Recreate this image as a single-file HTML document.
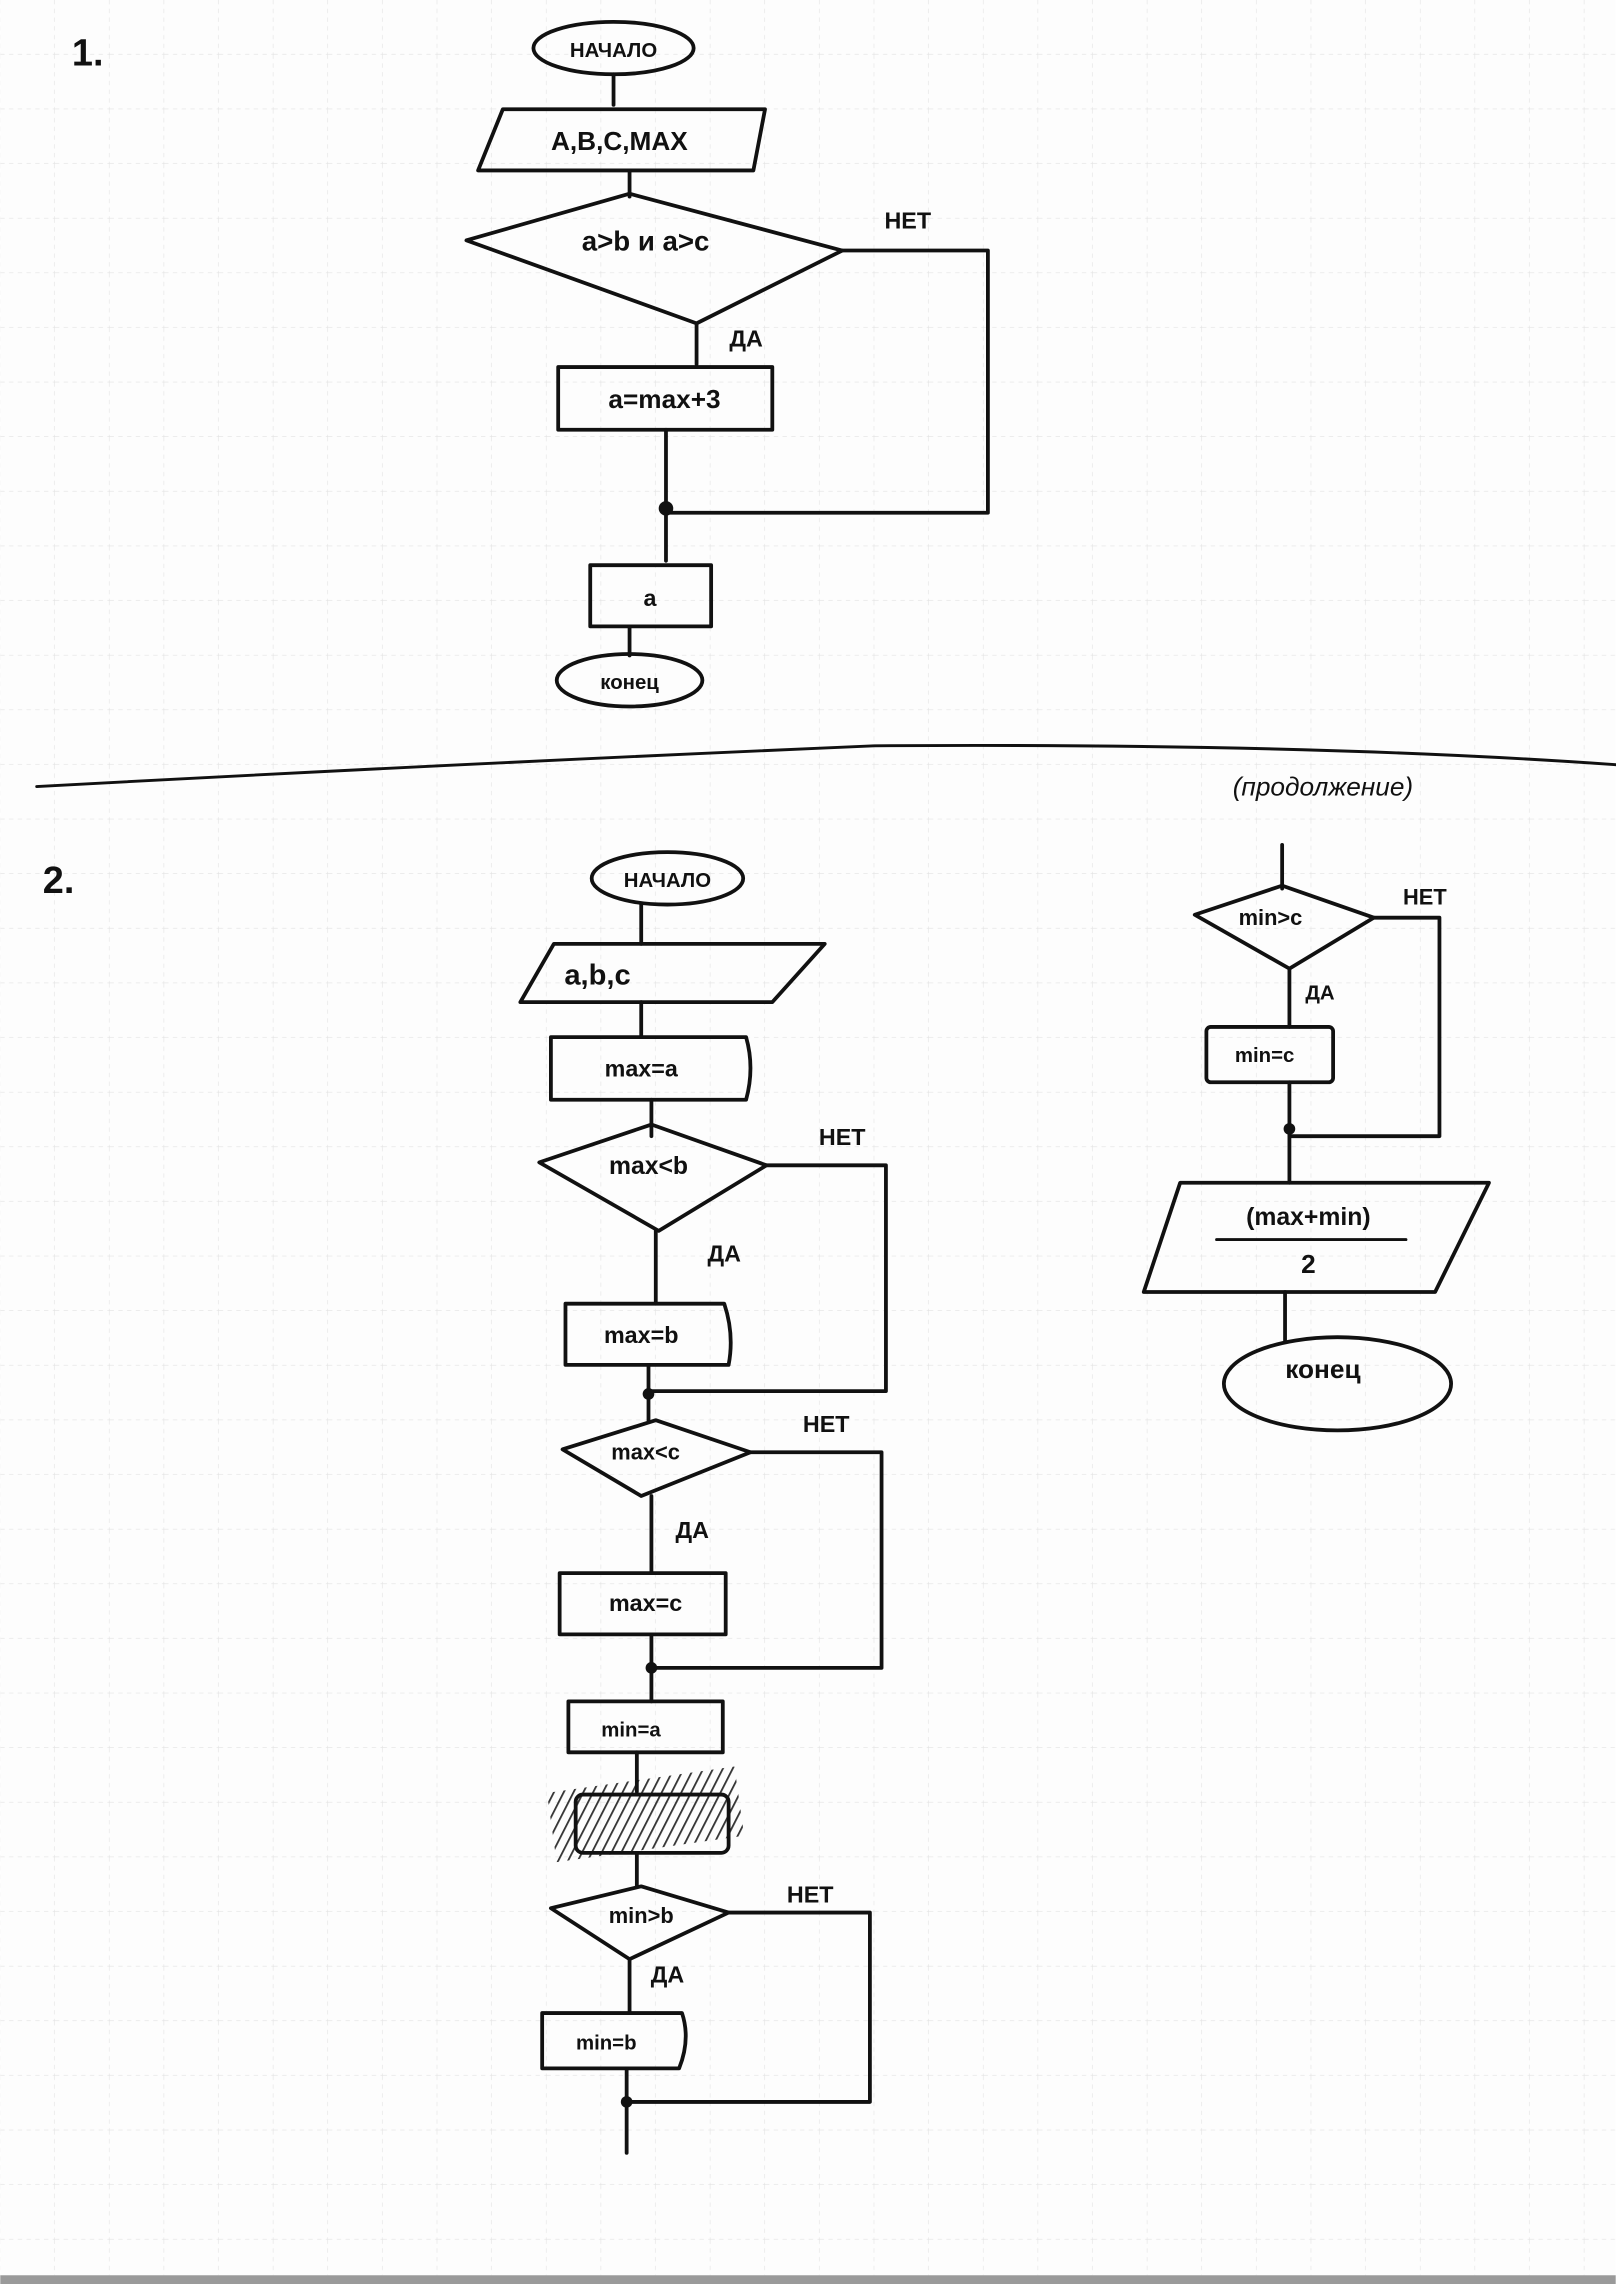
<!DOCTYPE html>
<html><head><meta charset="utf-8">
<style>
html,body{margin:0;padding:0;background:#fff;}
svg{display:block;}
text{font-family:"Liberation Sans","Noto Sans CJK SC",sans-serif;fill:#111;}
</style></head>
<body>
<svg width="1616" height="2284" viewBox="0 0 1109 1568" xmlns="http://www.w3.org/2000/svg">
<defs>
<pattern id="g" width="37.5" height="37.5" patternUnits="userSpaceOnUse">
<path d="M37.5 0V37.5M0 37.5H37.5" stroke="#e2e2e2" stroke-width="0.8" stroke-dasharray="3 3" fill="none"/>
</pattern>
<pattern id="h" width="6" height="6" patternUnits="userSpaceOnUse" patternTransform="rotate(35)">
<path d="M0 0V6" stroke="#111" stroke-width="2.5"/>
</pattern>
</defs>
<rect width="1109" height="1568" fill="#fdfdfd"/>
<rect width="1109" height="1562" fill="url(#g)"/>
<rect y="1562" width="1109" height="6" fill="#9a9a9a"/>
<g fill="none" stroke="#111" stroke-width="2.6" stroke-linejoin="round" stroke-linecap="round">
<!-- Part 1 -->
<ellipse cx="421" cy="33" rx="55" ry="18"/>
<path d="M421 51V72"/>
<path d="M345 75H525L517 117H328Z"/>
<path d="M432 117V135"/>
<path d="M320 165L432 133L578 172L478 222Z"/>
<path d="M578 172H678V352H457"/>
<path d="M478 222V250"/>
<rect x="383" y="252" width="147" height="43"/>
<path d="M457 295V385"/>
<rect x="405" y="388" width="83" height="42"/>
<path d="M432 430V450"/>
<ellipse cx="432" cy="467" rx="50" ry="18"/>
<path d="M25 540Q300 525 600 512Q900 510 1109 525" stroke-width="2"/>
<!-- Part 2 -->
<ellipse cx="458" cy="603" rx="52" ry="18"/>
<path d="M440 621V648"/>
<path d="M380 648H566L530 688H357Z"/>
<path d="M440 688V712"/>
<path d="M378 712H512Q518 733 512 755H378Z"/>
<path d="M447 755V780"/>
<path d="M370 798L447 772L526 800L452 845Z"/>
<path d="M526 800H608V955H447"/>
<path d="M450 845V895"/>
<path d="M388 895H497Q504 916 500 937H388Z"/>
<path d="M445 937V975"/>
<path d="M386 995L450 975L515 997L440 1027Z"/>
<path d="M515 997H605V1145H447"/>
<path d="M447 1027V1080"/>
<rect x="384" y="1080" width="114" height="42"/>
<path d="M447 1122V1168"/>
<rect x="390" y="1168" width="106" height="35"/>
<path d="M437 1203V1230"/>
<rect x="395" y="1232" width="105" height="40" rx="5"/>
<path d="M437 1272V1295"/>
<path d="M378 1310L440 1295L500 1313L432 1345Z"/>
<path d="M500 1313H597V1443H430"/>
<path d="M432 1345V1382"/>
<path d="M372 1382H468Q474 1400 466 1420H372Z"/>
<path d="M430 1420V1478"/>
<!-- right column -->
<path d="M880 580V610"/>
<path d="M820 628L880 608L943 630L885 665Z"/>
<path d="M943 630H988V780H885"/>
<path d="M885 665V705"/>
<rect x="828" y="705" width="87" height="38" rx="3"/>
<path d="M885 743V812"/>
<path d="M810 812H1022L985 887H785Z"/>
<path d="M835 851H965" stroke-width="2"/>
<path d="M882 887V920"/>
<ellipse cx="918" cy="950" rx="78" ry="32"/>
</g>
<rect x="378" y="1222" width="130" height="48" fill="url(#h)" opacity="0.85" transform="rotate(-8 440 1246)"/>
<g fill="#111">
<circle cx="457" cy="349" r="5"/>
<circle cx="445" cy="957" r="4"/>
<circle cx="447" cy="1145" r="4"/>
<circle cx="430" cy="1443" r="4"/>
<circle cx="885" cy="775" r="4"/>
</g>
<g font-size="17" font-weight="bold" text-anchor="middle">
<text x="60" y="45" font-size="26">1.</text>
<text x="421" y="39" font-size="14">НАЧАЛО</text>
<text x="425" y="103" font-size="18">A,B,C,MAX</text>
<text x="443" y="172" font-size="19">a&gt;b и a&gt;c</text>
<text x="623" y="157" font-size="16">НЕТ</text>
<text x="512" y="238" font-size="16">ДА</text>
<text x="456" y="280" font-size="18">a=max+3</text>
<text x="446" y="416" font-size="16">a</text>
<text x="432" y="473" font-size="14">конец</text>
<text x="40" y="613" font-size="26">2.</text>
<text x="458" y="609" font-size="14">НАЧАЛО</text>
<text x="410" y="676" font-size="20">a,b,c</text>
<text x="440" y="739" font-size="16">max=a</text>
<text x="445" y="806" font-size="17">max&lt;b</text>
<text x="578" y="786" font-size="16">НЕТ</text>
<text x="497" y="866" font-size="16">ДА</text>
<text x="440" y="922" font-size="16">max=b</text>
<text x="443" y="1002" font-size="15">max&lt;c</text>
<text x="567" y="983" font-size="16">НЕТ</text>
<text x="475" y="1056" font-size="16">ДА</text>
<text x="443" y="1106" font-size="16">max=c</text>
<text x="433" y="1192" font-size="14">min=a</text>
<text x="440" y="1320" font-size="15">min&gt;b</text>
<text x="556" y="1306" font-size="16">НЕТ</text>
<text x="458" y="1361" font-size="16">ДА</text>
<text x="416" y="1407" font-size="14">min=b</text>
<text x="908" y="546" font-size="18" font-weight="normal" font-style="italic">(продолжение)</text>
<text x="872" y="635" font-size="15">min&gt;c</text>
<text x="978" y="621" font-size="15">НЕТ</text>
<text x="906" y="686" font-size="14">ДА</text>
<text x="868" y="729" font-size="14">min=c</text>
<text x="898" y="841" font-size="17">(max+min)</text>
<text x="898" y="874" font-size="18">2</text>
<text x="908" y="946" font-size="18">конец</text>
</g>
</svg>
</body></html>
